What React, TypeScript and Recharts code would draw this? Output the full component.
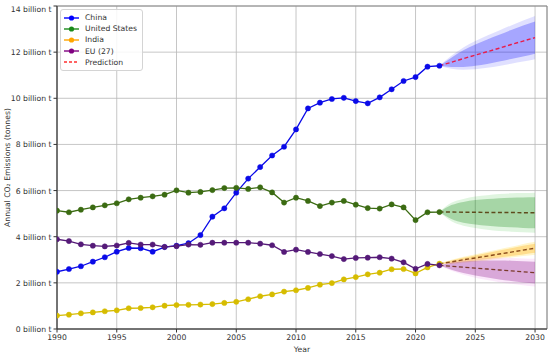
import React from 'react';
import {
  ComposedChart,
  Line,
  Area,
  XAxis,
  YAxis,
  CartesianGrid,
  Legend,
  ReferenceArea,
} from 'recharts';

// historical years 1990..2022
const historyYears = [
  1990, 1991, 1992, 1993, 1994, 1995, 1996, 1997, 1998, 1999, 2000, 2001, 2002, 2003, 2004, 2005,
  2006, 2007, 2008, 2009, 2010, 2011, 2012, 2013, 2014, 2015, 2016, 2017, 2018, 2019, 2020, 2021, 2022,
];

const china = [
  2.48, 2.6, 2.72, 2.92, 3.11, 3.35, 3.51, 3.5, 3.35, 3.55, 3.61, 3.72, 4.07, 4.87, 5.23, 5.91,
  6.52, 7.02, 7.52, 7.9, 8.65, 9.56, 9.81, 9.97, 10.02, 9.88, 9.78, 10.04, 10.39, 10.75, 10.92, 11.37, 11.41,
];
const unitedStates = [
  5.13, 5.06, 5.17, 5.27, 5.36, 5.45, 5.62, 5.69, 5.75, 5.82, 6.01, 5.91, 5.94, 6.02, 6.11, 6.12,
  6.07, 6.14, 5.92, 5.48, 5.69, 5.55, 5.33, 5.48, 5.55, 5.39, 5.24, 5.22, 5.4, 5.27, 4.72, 5.06, 5.07,
];
const india = [
  0.58, 0.62, 0.68, 0.72, 0.77, 0.81, 0.9, 0.91, 0.94, 1.01, 1.04, 1.05, 1.06, 1.08, 1.13, 1.18,
  1.29, 1.42, 1.5, 1.62, 1.68, 1.78, 1.92, 1.99, 2.15, 2.25, 2.37, 2.44, 2.59, 2.6, 2.41, 2.67, 2.83,
];
const eu27 = [
  3.89, 3.81, 3.67, 3.61, 3.58, 3.62, 3.73, 3.66, 3.66, 3.56, 3.59, 3.66, 3.65, 3.74, 3.74, 3.74,
  3.74, 3.7, 3.63, 3.34, 3.44, 3.34, 3.25, 3.16, 3.03, 3.08, 3.09, 3.11, 3.05, 2.89, 2.61, 2.82, 2.76,
];

// prediction years 2022..2030
const predYears = [2022, 2023, 2024, 2025, 2026, 2027, 2028, 2029, 2030];

const chinaPred = [11.41, 11.56, 11.72, 11.87, 12.02, 12.17, 12.33, 12.48, 12.63];
const chinaInnerHalf = [0, 0.2, 0.36, 0.46, 0.53, 0.58, 0.63, 0.67, 0.7];
const chinaOuterHalf = [0, 0.28, 0.48, 0.61, 0.7, 0.77, 0.83, 0.89, 0.94];

const usPred = [5.07, 5.07, 5.06, 5.06, 5.05, 5.05, 5.05, 5.04, 5.04];
const usInnerHalf = [0, 0.3, 0.45, 0.53, 0.58, 0.62, 0.64, 0.66, 0.67];
const usOuterHalf = [0, 0.4, 0.58, 0.68, 0.75, 0.8, 0.83, 0.85, 0.87];

const indiaPred = [2.83, 2.91, 3.0, 3.08, 3.16, 3.25, 3.33, 3.42, 3.5];
const indiaInnerHalf = [0, 0.06, 0.09, 0.11, 0.13, 0.15, 0.17, 0.19, 0.2];
const indiaOuterHalf = [0, 0.09, 0.13, 0.16, 0.19, 0.21, 0.23, 0.26, 0.28];

const euPred = [2.76, 2.72, 2.68, 2.64, 2.6, 2.56, 2.52, 2.48, 2.44];
const euInnerHalf = [0, 0.15, 0.25, 0.32, 0.37, 0.41, 0.44, 0.46, 0.47];
const euOuterHalf = [0, 0.2, 0.33, 0.42, 0.48, 0.53, 0.56, 0.58, 0.6];

const xTicks = [1990, 1995, 2000, 2005, 2010, 2015, 2020, 2025, 2030];
const yTicks = [0, 2, 4, 6, 8, 10, 12, 14];

const legendItems = [
  { name: 'China', color: '#0000ff', dashed: false },
  { name: 'United States', color: '#1a8a1a', dashed: false },
  { name: 'India', color: '#ffa500', dashed: false },
  { name: 'EU (27)', color: '#800080', dashed: false },
  { name: 'Prediction', color: '#ff3030', dashed: true },
];

const FONT = '"DejaVu Sans", sans-serif';
const FS = 7.7;

// build one row per year
const allYears: number[] = [];
for (let y = 1990; y <= 2030; y++) allYears.push(y);

const chartData = allYears.map((year) => {
  const row: Record<string, any> = { year };
  const h = historyYears.indexOf(year);
  if (h >= 0) {
    row.china = china[h];
    row.us = unitedStates[h];
    row.india = india[h];
    row.eu = eu27[h];
  }
  const p = predYears.indexOf(year);
  if (p >= 0) {
    row.chinaPred = chinaPred[p];
    row.chinaInner = [chinaPred[p] - chinaInnerHalf[p], chinaPred[p] + chinaInnerHalf[p]];
    row.chinaOuter = [chinaPred[p] - chinaOuterHalf[p], chinaPred[p] + chinaOuterHalf[p]];
    row.usPred = usPred[p];
    row.usInner = [usPred[p] - usInnerHalf[p], usPred[p] + usInnerHalf[p]];
    row.usOuter = [usPred[p] - usOuterHalf[p], usPred[p] + usOuterHalf[p]];
    row.indiaPred = indiaPred[p];
    row.indiaInner = [indiaPred[p] - indiaInnerHalf[p], indiaPred[p] + indiaInnerHalf[p]];
    row.indiaOuter = [indiaPred[p] - indiaOuterHalf[p], indiaPred[p] + indiaOuterHalf[p]];
    row.euPred = euPred[p];
    row.euInner = [euPred[p] - euInnerHalf[p], euPred[p] + euInnerHalf[p]];
    row.euOuter = [euPred[p] - euOuterHalf[p], euPred[p] + euOuterHalf[p]];
  }
  return row;
});

const bands = [
  { key: 'usOuter', fill: '#22b822', opacity: 0.14 },
  { key: 'usInner', fill: '#008000', opacity: 0.26 },
  { key: 'indiaOuter', fill: '#ffd000', opacity: 0.2 },
  { key: 'indiaInner', fill: '#ffa500', opacity: 0.3 },
  { key: 'euOuter', fill: '#e060e0', opacity: 0.14 },
  { key: 'euInner', fill: '#800080', opacity: 0.28 },
  { key: 'chinaOuter', fill: '#0000ff', opacity: 0.12 },
  { key: 'chinaInner', fill: '#0000ff', opacity: 0.26 },
];

const series = [
  { key: 'china', color: '#0a0ae8' },
  { key: 'us', color: '#3b6b12' },
  { key: 'india', color: '#d6bc00' },
  { key: 'eu', color: '#551a78' },
];

const predictions = [
  { key: 'usPred', color: '#5e4a1c' },
  { key: 'indiaPred', color: '#8a4a1a' },
  { key: 'euPred', color: '#7a3a2a' },
  { key: 'chinaPred', color: '#e81c4a' },
];

const YTick = ({ x, y, payload }: any) => (
  <text x={x} y={y} dy={3} textAnchor="end" fontSize={FS} fill="#333" fontFamily={FONT}>
    {`${payload.value} billion t`}
  </text>
);

const LegendBox = () => (
  <div
    style={{
      border: '1px solid #d4d4d4',
      borderRadius: 3,
      background: 'rgba(255,255,255,0.85)',
      padding: '2px 5px 2px 2px',
      fontFamily: FONT,
      fontSize: FS,
      color: '#333',
      display: 'inline-block',
    }}
  >
    {legendItems.map((item) => (
      <div key={item.name} style={{ display: 'flex', alignItems: 'center', height: 11.2 }}>
        <svg width={17} height={8} style={{ marginRight: 5, flexShrink: 0 }}>
          <line
            x1={1}
            x2={16}
            y1={4}
            y2={4}
            stroke={item.color}
            strokeWidth={1.4}
            strokeDasharray={item.dashed ? '3 2' : undefined}
          />
          {!item.dashed && <circle cx={8.5} cy={4} r={2.6} fill={item.color} />}
        </svg>
        <span style={{ whiteSpace: 'nowrap' }}>{item.name}</span>
      </div>
    ))}
  </div>
);

export default function App() {
  return (
    <div style={{ position: 'absolute', left: 0, top: 0, width: 550, height: 353, background: '#fff' }}>
      <ComposedChart
        width={550}
        height={353}
        data={chartData}
        margin={{ top: 6, right: 3, left: 0, bottom: 0 }}
        style={{ fontFamily: FONT }}
      >
        <CartesianGrid stroke="#b8b8b8" strokeWidth={0.8} />
        <XAxis
          dataKey="year"
          type="number"
          domain={[1990, 2031]}
          ticks={xTicks}
          allowDataOverflow
          height={24}
          tickSize={3.5}
          tick={{ fontSize: FS, fill: '#333', fontFamily: FONT }}
          stroke="#333"
          label={{ value: 'Year', position: 'insideBottom', offset: 1, fontSize: FS, fill: '#333', fontFamily: FONT }}
        />
        <YAxis
          type="number"
          domain={[0, 14]}
          ticks={yTicks}
          allowDataOverflow
          width={57}
          tickSize={3.5}
          tick={<YTick />}
          stroke="#333"
          label={{
            value: 'Annual CO₂ Emissions (tonnes)',
            angle: -90,
            position: 'insideLeft',
            offset: 7,
            fontSize: FS,
            fill: '#333',
            fontFamily: FONT,
            style: { textAnchor: 'middle' },
          }}
        />
        <ReferenceArea x1={1990} x2={2031} y1={0} y2={14} fill="none" stroke="#888" strokeWidth={1} />
        {bands.map((b) => (
          <Area
            key={b.key}
            dataKey={b.key}
            type="monotone"
            stroke="none"
            fill={b.fill}
            fillOpacity={b.opacity}
            isAnimationActive={false}
            legendType="none"
          />
        ))}
        {series.map((s) => (
          <Line
            key={s.key}
            dataKey={s.key}
            stroke={s.color}
            strokeWidth={1.3}
            dot={{ r: 2.6, fill: s.color, stroke: s.color, strokeWidth: 0.5 }}
            isAnimationActive={false}
            legendType="none"
          />
        ))}
        {predictions.map((p) => (
          <Line
            key={p.key}
            dataKey={p.key}
            stroke={p.color}
            strokeWidth={1.4}
            strokeDasharray="4 2.5"
            dot={false}
            isAnimationActive={false}
            legendType="none"
          />
        ))}
        <Legend
          layout="vertical"
          align="center"
          verticalAlign="middle"
          content={<LegendBox />}
          wrapperStyle={{ top: 9, left: 60, width: 'auto', height: 'auto' }}
        />
      </ComposedChart>
    </div>
  );
}
